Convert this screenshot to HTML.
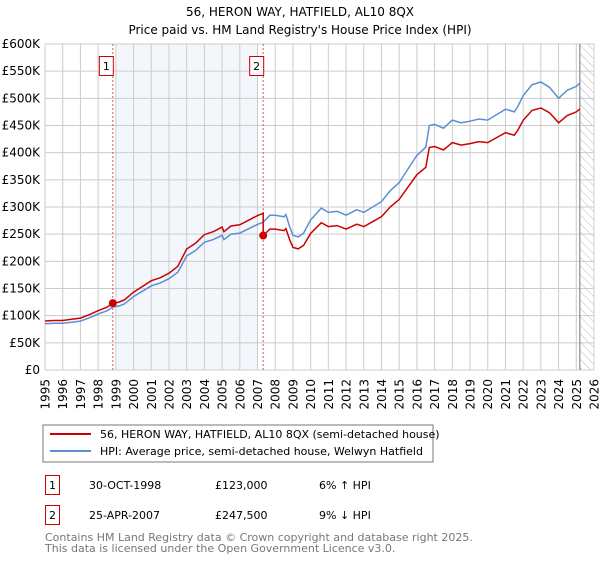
<!DOCTYPE html>
<html><head><meta charset="utf-8"><style>
body{margin:0;background:#fff;width:600px;height:560px;overflow:hidden;font-family:"DejaVu Sans","Liberation Sans",sans-serif;}
svg text{font-family:"DejaVu Sans","Liberation Sans",sans-serif;}
</style></head><body>
<svg id="c" width="600" height="560" xmlns="http://www.w3.org/2000/svg">
<text x="300" y="16" text-anchor="middle" font-size="12">56, HERON WAY, HATFIELD, AL10 8QX</text>
<text x="300" y="34" text-anchor="middle" font-size="12">Price paid vs. HM Land Registry's House Price Index (HPI)</text>
<defs><pattern id="hatch" width="6" height="6" patternUnits="userSpaceOnUse" patternTransform="rotate(-45)"><line x1="0" y1="0" x2="0" y2="6" stroke="#bbb" stroke-width="1"/></pattern></defs>
<g id="plot"></g>
<rect x="43" y="425" width="390" height="37" fill="#fff" stroke="#777"/>
<line x1="50" y1="434" x2="91" y2="434" stroke="#cc0000" stroke-width="2"/>
<text x="100" y="438" font-size="11">56, HERON WAY, HATFIELD, AL10 8QX (semi-detached house)</text>
<line x1="50" y1="451" x2="91" y2="451" stroke="#5b8fd4" stroke-width="2"/>
<text x="100" y="455" font-size="11">HPI: Average price, semi-detached house, Welwyn Hatfield</text>
<g font-size="11">
<rect x="45.5" y="475.5" width="14" height="19" fill="#fff" stroke="#cc0000"/><text x="52.5" y="489" text-anchor="middle">1</text>
<text x="89" y="489">30-OCT-1998</text><text x="215" y="489">£123,000</text><text x="319" y="489">6% ↑ HPI</text></g>
<g font-size="11">
<rect x="45.5" y="505.5" width="14" height="19" fill="#fff" stroke="#cc0000"/><text x="52.5" y="519" text-anchor="middle">2</text>
<text x="89" y="519">25-APR-2007</text><text x="215" y="519">£247,500</text><text x="319" y="519">9% ↓ HPI</text></g>
<text x="45" y="541" font-size="11" fill="#777">Contains HM Land Registry data © Crown copyright and database right 2025.</text>
<text x="45" y="552" font-size="11" fill="#777">This data is licensed under the Open Government Licence v3.0.</text>
</svg>
<script>
const hpiYears=[1995,1995.5,1996,1996.5,1997,1997.5,1998,1998.5,1998.83,1999.2,1999.5,2000,2000.5,2001,2001.5,2002,2002.5,2003,2003.5,2004,2004.5,2005,2005.1,2005.5,2006,2006.5,2007,2007.32,2007.7,2008,2008.5,2008.6,2008.8,2009,2009.3,2009.6,2010,2010.6,2011,2011.5,2012,2012.6,2013,2013.5,2014,2014.5,2015,2015.5,2016,2016.5,2016.7,2017,2017.5,2018,2018.5,2019,2019.5,2020,2020.5,2021,2021.5,2021.7,2022,2022.5,2023,2023.5,2024,2024.5,2025,2025.2];
const hpiValues=[85,86,86,88,90,96,103,109,116,118,122,135,145,155,160,168,180,210,220,235,240,248,240,250,252,260,268,272,285,285,282,286,265,248,245,252,276,298,290,292,285,295,290,300,310,330,345,370,395,410,450,452,445,460,455,458,462,460,470,480,475,485,505,525,530,520,500,515,522,528];
const saleYears=[1998.83,2007.32];
const salePrices=[123,247.5];
const yTicks=[0,50,100,150,200,250,300,350,400,450,500,550,600];
const xTicks=[1995,1996,1997,1998,1999,2000,2001,2002,2003,2004,2005,2006,2007,2008,2009,2010,2011,2012,2013,2014,2015,2016,2017,2018,2019,2020,2021,2022,2023,2024,2025,2026];
const X=y=>45+(y-1995)*(549/31), Y=v=>370-v*(326/600);
const NS='http://www.w3.org/2000/svg', g=document.getElementById('plot');
function mk(t,a){const e=document.createElementNS(NS,t);for(const k in a)e.setAttribute(k,a[k]);g.appendChild(e);return e;}
let e=mk('rect',{x:X(1999),y:Y(600),width:X(2007)-X(1999),height:Y(0)-Y(600),fill:'#eef3fb',opacity:0.7});


e=mk('rect',{x:X(2025.2),y:Y(600),width:X(2026)-X(2025.2),height:Y(0)-Y(600),fill:'url(#hatch)'});


yTicks.forEach(v=>{
 let l=mk('line',{x1:45,x2:X(2026),y1:Y(v),y2:Y(v),stroke:'#ccc'});
 
 
 let t=mk('text',{x:40,y:Y(v)+4,'text-anchor':'end','font-size':12});
 t.textContent=v===0?'£0':'£'+v+'K';
 
 
});
xTicks.forEach(yr=>{
 let l=mk('line',{x1:X(yr),x2:X(yr),y1:Y(600),y2:Y(0),stroke:'#ccc'});
 
 
 let t=mk('text',{x:-379,y:X(yr)+4.5,'text-anchor':'end','font-size':12,transform:'rotate(-90)'});
 t.textContent=yr;
 
 
});
e=mk('line',{x1:X(2025.2),x2:X(2025.2),y1:Y(600),y2:Y(0),stroke:'#888','stroke-width':1.2});


function hpiAt(y){for(let i=1;i<hpiYears.length;i++)if(y<=hpiYears[i]){const t=(y-hpiYears[i-1])/(hpiYears[i]-hpiYears[i-1]);return hpiValues[i-1]+t*(hpiValues[i]-hpiValues[i-1]);}return hpiValues[hpiValues.length-1];}
const r1=salePrices[0]/hpiAt(saleYears[0]), r2=salePrices[1]/hpiAt(saleYears[1]);
const blue=hpiYears.map((y,i)=>X(y).toFixed(1)+','+Y(hpiValues[i]).toFixed(1)).join(' ');
const redPts=[];
hpiYears.forEach((y,i)=>{
 if(y<saleYears[1])redPts.push(X(y).toFixed(1)+','+Y(hpiValues[i]*r1).toFixed(1));
 else{ if(redPts.length&&hpiYears[i-1]<saleYears[1]){redPts.push(X(saleYears[1]).toFixed(1)+','+Y(hpiAt(saleYears[1])*r1).toFixed(1));redPts.push(X(saleYears[1]).toFixed(1)+','+Y(salePrices[1]).toFixed(1));}
  redPts.push(X(y).toFixed(1)+','+Y(hpiValues[i]*r2).toFixed(1));}
});
saleYears.forEach((y,i)=>{
 let l=mk('line',{x1:X(y),x2:X(y),y1:Y(600),y2:Y(0),stroke:'#e05050','stroke-dasharray':'2,2'});
 
 
});
e=mk('polyline',{points:blue,fill:'none',stroke:'#5b8fd4','stroke-width':1.5});


e=mk('polyline',{points:redPts.join(' '),fill:'none',stroke:'#cc0000','stroke-width':1.5});


saleYears.forEach((y,i)=>{
 let c=mk('circle',{cx:X(y),cy:Y(salePrices[i]),r:4,fill:'#cc0000'});
 
 
 let b=mk('rect',{x:X(y)-13.5,y:56.5,width:14,height:19,fill:'#fff',stroke:'#cc0000'});
 
 
 let t=mk('text',{x:X(y)-6.5,y:70,'text-anchor':'middle','font-size':11});
 t.textContent=i+1;
 
 
});
</script>
</body></html>
